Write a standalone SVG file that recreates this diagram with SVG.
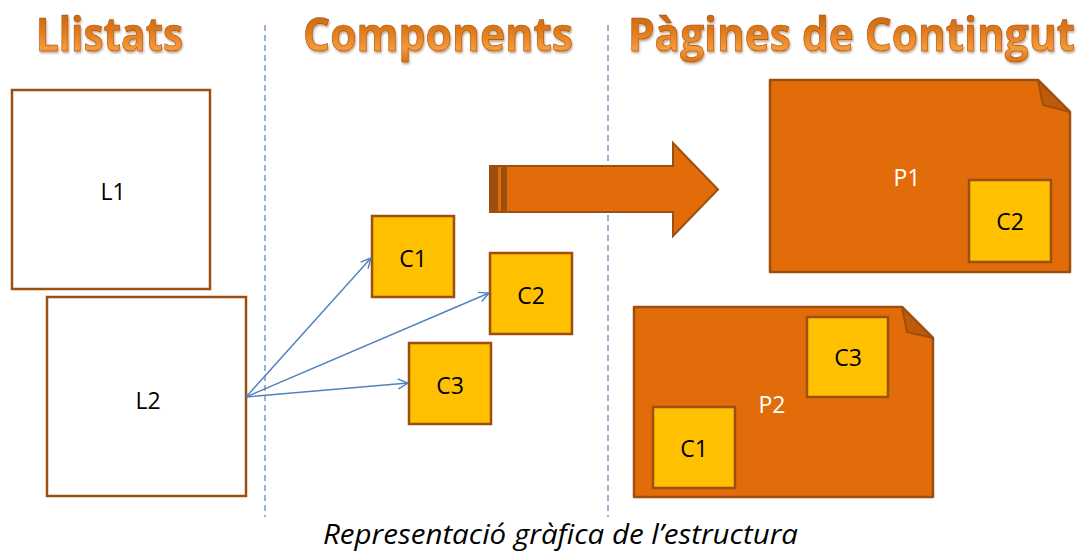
<svg xmlns="http://www.w3.org/2000/svg" width="1088" height="552" viewBox="0 0 1088 552">
<defs>
<linearGradient id="tg" x1="0" y1="0" x2="0" y2="1">
<stop offset="0" stop-color="#B85A0C"/>
<stop offset="0.45" stop-color="#E0781A"/>
<stop offset="0.75" stop-color="#F59A3A"/>
<stop offset="1" stop-color="#D86A10"/>
</linearGradient>
<filter id="sh" x="-10%" y="-20%" width="120%" height="150%">
<feDropShadow dx="1" dy="2" stdDeviation="1.2" flood-color="#7a3a00" flood-opacity="0.45"/>
</filter>
<marker id="ah" viewBox="0 0 12 12" refX="11" refY="6" markerWidth="12" markerHeight="12" markerUnits="userSpaceOnUse" orient="auto">
<path d="M1,1 L11,6 L1,11" fill="none" stroke="#4F81BD" stroke-width="1.4"/>
</marker>
</defs>
<style>
.title{font-family:"Open Sans","Noto Sans",sans-serif;font-weight:bold;font-size:46px;fill:url(#tg);stroke:#A3500A;stroke-width:0.6;filter:url(#sh)}
.sep{stroke:#4F81BD;stroke-width:1.2;stroke-dasharray:6 4;fill:none}
.list{fill:#FFFFFF;stroke:#9C4F0E;stroke-width:2.5}
.comp{fill:#FFC000;stroke:#9C4F0E;stroke-width:2.5}
.page{fill:#E36C0A;stroke:#9C4F0E;stroke-width:2.5;stroke-linejoin:round}
.fold{fill:#BF5A0A;stroke:#9C4F0E;stroke-width:2;stroke-linejoin:round}
.lbl{font-family:"Open Sans","Noto Sans",sans-serif;font-size:23px;fill:#000;text-anchor:middle;dominant-baseline:central}
.plbl{font-family:"Open Sans","Noto Sans",sans-serif;font-size:23px;fill:#FFFFFF;text-anchor:middle;dominant-baseline:central}
.conn{stroke:#4F81BD;stroke-width:1.4;fill:none;marker-end:url(#ah)}
.cap{font-family:"Open Sans","Noto Sans",sans-serif;font-style:italic;font-size:28px;fill:#000}
</style>
<g id="titles">
<text class="title" x="36" y="51" textLength="147" lengthAdjust="spacingAndGlyphs">Llistats</text>
<text class="title" x="303" y="51" textLength="270" lengthAdjust="spacingAndGlyphs">Components</text>
<text class="title" x="628" y="51" textLength="447" lengthAdjust="spacingAndGlyphs">Pàgines de Contingut</text>
</g>
<g id="separators">
<line class="sep" x1="265" y1="25" x2="265" y2="517"/>
<line class="sep" x1="608" y1="25" x2="608" y2="517"/>
</g>
<g id="L1">
<rect class="list" x="12" y="90" width="198" height="199"/>
<text class="lbl" x="113" y="191">L1</text>
</g>
<g id="L2">
<rect class="list" x="47" y="297" width="199" height="199"/>
<text class="lbl" x="148" y="400">L2</text>
</g>
<g id="C1">
<rect class="comp" x="372" y="216" width="82" height="81"/>
<text class="lbl" x="413" y="258">C1</text>
</g>
<g id="C2">
<rect class="comp" x="490" y="253" width="82" height="81"/>
<text class="lbl" x="531" y="295">C2</text>
</g>
<g id="C3">
<rect class="comp" x="409" y="343" width="82" height="81"/>
<text class="lbl" x="450" y="385">C3</text>
</g>
<g id="connectors">
<line class="conn" x1="246" y1="397" x2="371" y2="258"/>
<line class="conn" x1="246" y1="397" x2="489" y2="293"/>
<line class="conn" x1="246" y1="397" x2="408" y2="383"/>
</g>
<g id="bigArrow">
<path d="M490,166 L673,166 L673,143 L718,189.5 L673,236 L673,212 L490,212 Z" fill="#E36C0A" stroke="#9C4F0E" stroke-width="2" stroke-linejoin="miter"/>
<rect x="490" y="166" width="8" height="46" fill="#9C4F0E"/>
<rect x="501" y="166" width="6" height="46" fill="#9C4F0E"/>
</g>
<g id="P1">
<path class="page" d="M770,80 L1038,80 L1070,112 L1070,272 L770,272 Z"/>
<path class="fold" d="M1038,80 L1043,105 L1070,112 Z"/>
<text class="plbl" x="907" y="177">P1</text>
<g id="P1-C2">
<rect class="comp" x="969" y="180" width="82" height="82"/>
<text class="lbl" x="1010" y="221">C2</text>
</g>
</g>
<g id="P2">
<path class="page" d="M634,307 L902,307 L933,338 L933,497 L634,497 Z"/>
<path class="fold" d="M902,307 L907,332 L933,338 Z"/>
<text class="plbl" x="772" y="404">P2</text>
<g id="P2-C3">
<rect class="comp" x="807" y="317" width="81" height="80"/>
<text class="lbl" x="848" y="357">C3</text>
</g>
<g id="P2-C1">
<rect class="comp" x="653" y="407" width="82" height="81"/>
<text class="lbl" x="694" y="448">C1</text>
</g>
</g>
<text class="cap" x="323" y="544" textLength="475" lengthAdjust="spacingAndGlyphs">Representació gràfica de l’estructura</text>
</svg>
